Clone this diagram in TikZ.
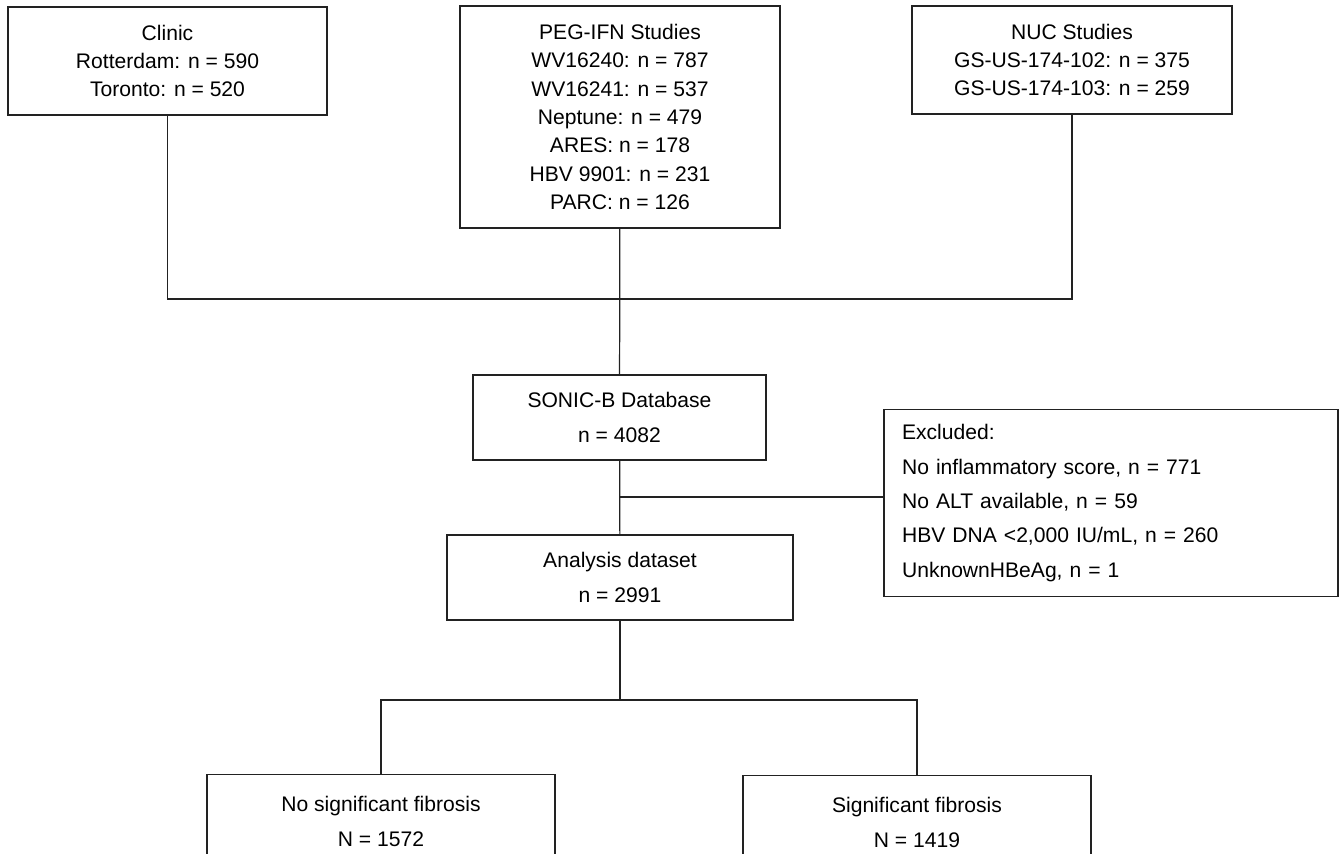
\documentclass[tikz,border=0pt]{standalone}
\usepackage{fontspec}
\setmainfont{Liberation Sans}
\definecolor{inkgray}{HTML}{222222}

\begin{document}
\begin{tikzpicture}[x=0.02cm, y=-0.02cm,
   box/.style={draw=inkgray, line width=0.7pt, inner sep=0pt, align=center,
      font=\fontsize{12}{16.1}\selectfont},
   topbox/.style={box, minimum width=6.4cm, minimum height=2.16cm},
   midbox/.style={box, minimum height=1.7cm, font=\fontsize{12}{19.6}\selectfont},
   outbox/.style={midbox, anchor=north, minimum width=6.96cm, minimum height=1.88cm},
   link/.style={draw=inkgray, line width=0.7pt}]
   \useasboundingbox (0,0) rectangle (1341,854);
   \clip (0,0) rectangle (1341,854);

   % sources
   \node (clinic) at (167.5,61) [topbox, minimum width=6.38cm] {Clinic\\Rotterdam: n = 590\\Toronto: n = 520};
   \node (peg) at (620,117) [topbox, minimum height=4.44cm] {PEG-IFN Studies\\WV16240: n = 787\\WV16241: n = 537\\Neptune: n = 479\\ARES: n = 178\\HBV 9901: n = 231\\PARC: n = 126};
   \node (nuc) at (1072,60) [topbox] {NUC Studies\\GS-US-174-102: n = 375\\GS-US-174-103: n = 259};

   % database and exclusions
   \node (sonic) at (619.5,417.5) [midbox, minimum width=5.86cm] {SONIC-B Database\\n = 4082};
   \node (excl) at (1111,503) [midbox, align=left, text width=8.36cm, inner xsep=0.36cm, minimum height=3.74cm] {Excluded:\\No inflammatory score, n = 771\\No ALT available, n = 59\\HBV DNA <2,000 IU/mL, n = 260\\UnknownHBeAg, n = 1};
   \node (analysis) at (620,577.5) [midbox, minimum width=6.92cm] {Analysis dataset\\n = 2991};

   % outcome groups
   \node (nofib) at (381,774) [outbox] {No significant fibrosis\\N = 1572};
   \node (sigfib) at (917,775) [outbox] {Significant fibrosis\\N = 1419};

   \coordinate (topjoin) at (620,299);
   \coordinate (split) at (620,700);
   \coordinate (exjoin) at (620,497);

   \draw[link] (clinic) |- (topjoin) -| (nuc);
   \draw[link] (peg) -- (sonic);
   \draw[link] (sonic) -- (analysis);
   \draw[link] (exjoin) -- (exjoin -| excl.west);
   \draw[link] (analysis) -- (split);
   \draw[link] (nofib) |- (split) -| (sigfib);
\end{tikzpicture}
\end{document}
